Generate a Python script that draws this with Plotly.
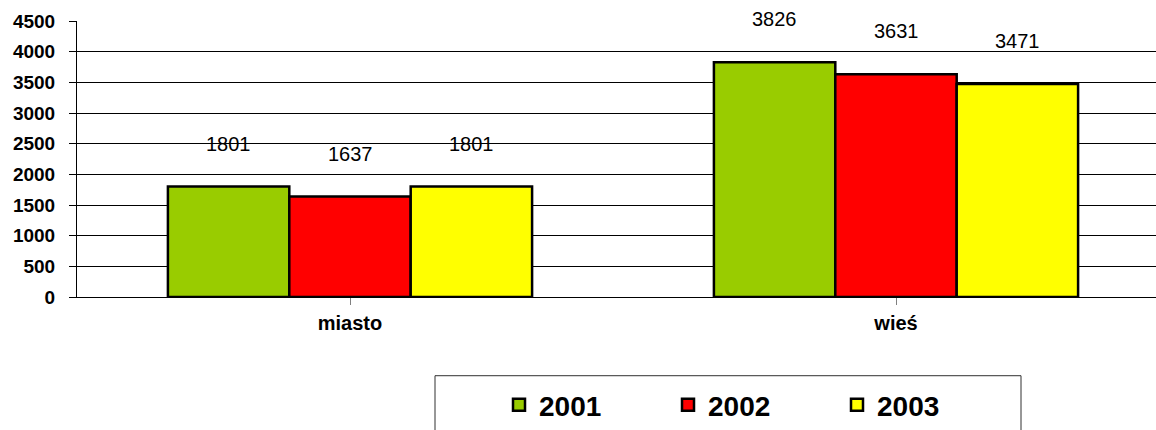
import plotly.graph_objects as go

categories = ["miasto", "wieś"]
years = ["2001", "2002", "2003"]
values_2001 = [1801, 3826]
values_2002 = [1637, 3631]
values_2003 = [1801, 3471]
colors = ["#99CC00", "#FF0000", "#FFFF00"]
y_ticks = [0, 500, 1000, 1500, 2000, 2500, 3000, 3500, 4000, 4500]

series = [values_2001, values_2002, values_2003]
FONT = "Liberation Sans, Arial, sans-serif"
W, H = 1156, 430
ML, MR, MT, MB = 77, 0, 21, 132
bargap = 0.333

fig = go.Figure()
for name, vals, col in zip(years, series, colors):
    fig.add_trace(go.Bar(
        x=list(range(len(categories))), y=vals, name=name,
        marker=dict(color=col, line=dict(color="black", width=2.5)),
    ))

# data labels above the bars
n = len(series)
bw = (1 - bargap) / n
for j, vals in enumerate(series):
    for i, v in enumerate(vals):
        fig.add_annotation(
            x=i + (j - (n - 1) / 2) * bw, y=v, text=str(v), showarrow=False,
            yshift=43, yanchor="middle", xanchor="center",
            font=dict(family=FONT, size=20, color="black"),
        )

# legend frame
pw = W - ML - MR
ph = H - MT - MB
fig.add_shape(
    type="rect", xref="paper", yref="paper",
    x0=(435 - ML) / pw, x1=(1021 - ML) / pw,
    y0=(H - MB - 377) / ph, y1=(H - MB - 445) / ph,
    line=dict(color="#303030", width=1), fillcolor="rgba(0,0,0,0)",
)

fig.update_layout(
    width=W, height=H,
    margin=dict(l=ML, r=MR, t=MT, b=MB),
    plot_bgcolor="white", paper_bgcolor="white",
    barmode="group", bargap=bargap, bargroupgap=0,
    font=dict(family=FONT, color="black"),
    showlegend=True,
    legend=dict(
        orientation="h", x=(499 - ML) / pw, xanchor="left",
        y=(H - MB - 406) / ph, yanchor="middle",
        font=dict(family=FONT, size=28, color="black", weight="bold"),
        entrywidth=124, bgcolor="rgba(0,0,0,0)", borderwidth=0,
    ),
)
fig.update_xaxes(
    tickmode="array", tickvals=list(range(len(categories))), ticktext=categories,
    range=[-0.5, -0.5 + pw / 546.0],
    tickson="boundaries", ticks="outside", ticklen=7, tickcolor="#808080",
    showline=True, linecolor="black", linewidth=1,
    showgrid=False, zeroline=False,
    tickfont=dict(family=FONT, size=20, color="black", weight="bold"),
    ticklabelstandoff=1,
)
fig.update_yaxes(
    range=[0, 4500], tickmode="array", tickvals=y_ticks,
    ticks="outside", ticklen=7, tickcolor="black",
    showline=True, linecolor="black", linewidth=1,
    showgrid=True, gridcolor="black", gridwidth=1, zeroline=False,
    tickfont=dict(family=FONT, size=19, color="black", weight="bold"),
    ticklabelstandoff=10,
)

fig.write_html("out.html", config={"displayModeBar": False},
               post_script="document.body.style.margin='0';")
